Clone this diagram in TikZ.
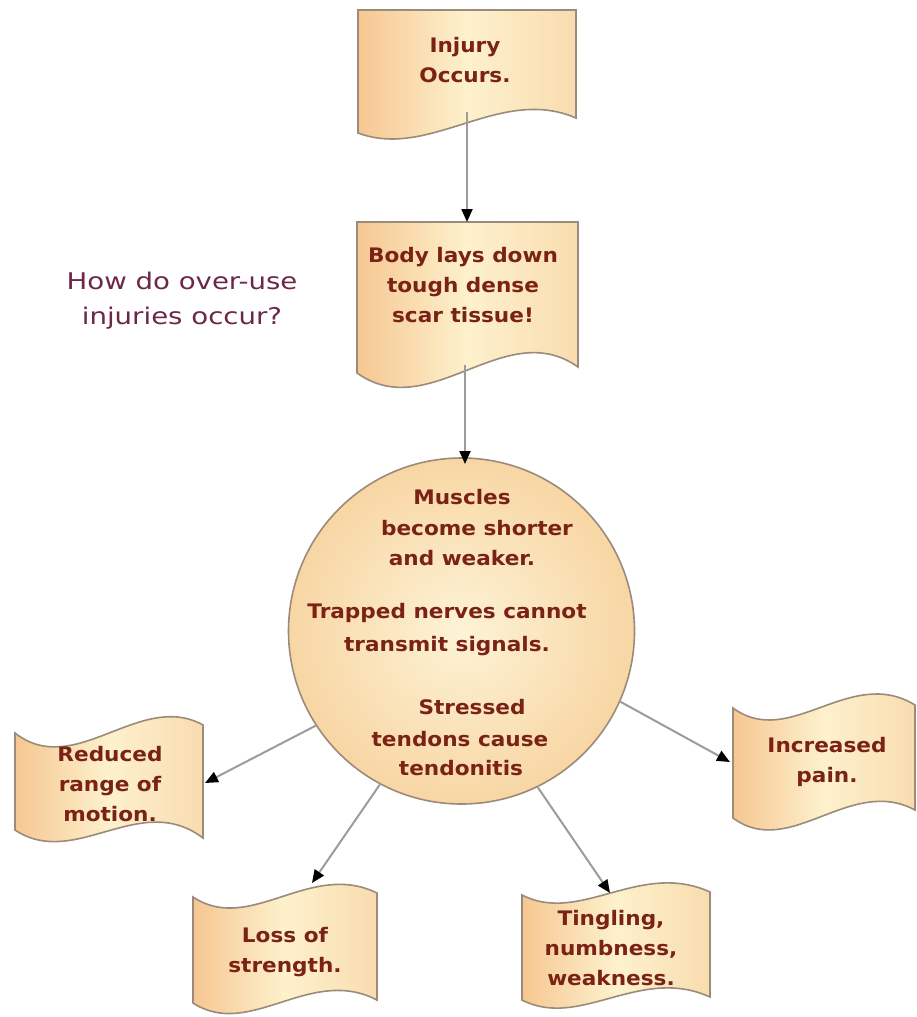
\documentclass[tikz,border=0pt]{standalone}
\usepackage{fontspec}
\setmainfont{DejaVu Sans}
\newfontfamily\titlefont[FakeStretch=1.2]{DejaVu Sans}
\newfontfamily\boxfont[FakeStretch=1.08]{DejaVu Sans}
\usetikzlibrary{arrows.meta}
\definecolor{shO}{HTML}{F6C792}
\definecolor{shY}{HTML}{FDF1CC}
\definecolor{shR}{HTML}{F9DCB0}
\definecolor{cIn}{HTML}{FDF3D6}
\definecolor{cOut}{HTML}{F8D6A4}
\definecolor{edge}{HTML}{9A8B7B}
\definecolor{lineGray}{HTML}{9C9C9C}
\definecolor{txtRed}{HTML}{7A2215}
\definecolor{titleCol}{HTML}{6B2848}
\tikzset{
  paper/.style={draw=edge, line width=1.6pt, left color=shO, right color=shR, middle color=shY},
  bubble/.style={circle, draw=edge, line width=1.6pt, inner color=cIn, outer color=cOut, minimum size=346pt, inner sep=0pt},
  txt/.style={text=txtRed, align=center, inner sep=0pt, font=\boxfont\fontsize{20}{30}\selectfont\bfseries},
  arr/.style={draw=lineGray, line width=2pt, -{Triangle[length=13pt,width=11pt,color=black]}},
}
\begin{document}
\begin{tikzpicture}[x=1pt,y=-1pt]
\useasboundingbox[fill=white] (0,0) rectangle (917,1017);

% ---- shapes ----
\path[paper] (358,10) -- (576,10) -- (576,118) .. controls (500,85) and (430,160) .. (358,133) -- cycle;
\path[paper] (357,222) -- (578,222) -- (578,367) .. controls (505,315) and (430,425) .. (357,373) -- cycle;
\node[bubble] (mid) at (461.5,631) {};
\path[paper] (15,733) .. controls (75,780) and (140,690) .. (203,725) -- (203,838) .. controls (140,790) and (75,870) .. (15,830) -- cycle;
\path[paper] (733,708) .. controls (790,750) and (850,665) .. (915,705) -- (915,810) .. controls (850,775) and (790,860) .. (733,818) -- cycle;
\path[paper] (193,897) .. controls (250,935) and (310,860) .. (377,893) -- (377,1000) .. controls (310,965) and (250,1040) .. (193,1003) -- cycle;
\path[paper] (522,895) .. controls (580,925) and (640,860) .. (710,892) -- (710,997) .. controls (640,965) and (580,1030) .. (522,1000) -- cycle;

% ---- texts ----
\node[text=titleCol, align=center, inner sep=0pt, font=\titlefont\fontsize{23}{35}\selectfont] (title) at (182,301) {How do over-use\\injuries occur?};
\node[txt] (inj) at (465,60) {Injury\\Occurs.};
\node[txt] (body) at (463,285) {Body lays down\\tough dense\\scar tissue!};
\node[txt] (m1) at (462,497) {Muscles};
\node[txt] (m2) at (477,528) {become shorter};
\node[txt] (m3) at (462,558) {and weaker.};
\node[txt] (m4) at (447,613) {Trapped nerves cannot};
\node[txt] (m5) at (447,646) {transmit signals.};
\node[txt] (m6) at (472,707) {Stressed};
\node[txt] (m7) at (460,739) {tendons cause};
\node[txt] (m8) at (461,768) {tendonitis};
\node[txt] (red) at (110,784) {Reduced\\range of\\motion.};
\node[txt] (inc) at (827,762) {Increased\\pain.};
\node[txt] (loss) at (285,952) {Loss of\\strength.};
\node[txt] (ting) at (611,948) {Tingling,\\numbness,\\weakness.};

% ---- connector end points ----
\coordinate (injB) at (467,112);
\coordinate (bodyT) at (467,222);
\coordinate (bodyB) at (465,365);
\coordinate (midT) at (465,464);
\coordinate (redR) at (205,783);
\coordinate (incL) at (730,762);
\coordinate (lossT) at (312,883);
\coordinate (tingT) at (610,893);

% ---- connectors ----
\draw[arr] (injB) -- (bodyT);
\draw[arr] (bodyB) -- (midT);
\draw[arr] (mid.213.5) -- (redR);
\draw[arr] (mid.336) -- (incL);
\draw[arr] (mid.242.6) -- (lossT);
\draw[arr] (mid.296.3) -- (tingT);
\end{tikzpicture}
\end{document}
